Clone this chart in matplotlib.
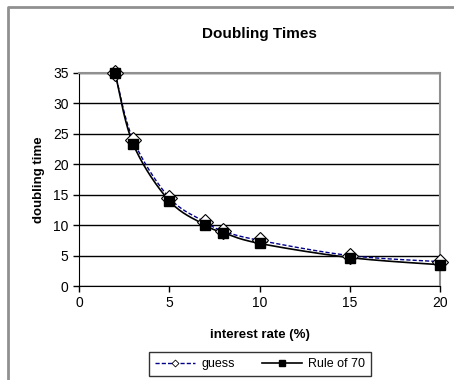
import numpy as np
import matplotlib.pyplot as plt
from matplotlib.lines import Line2D

plt.rcParams['font.family'] = ['Liberation Sans', 'DejaVu Sans']

rates = [2, 3, 5, 7, 8, 10, 15, 20]
guess = [35, 24, 14.5, 10.5, 9, 7.5, 5, 4]
rule70 = [35, 23.33, 14, 10, 8.75, 7, 4.67, 3.5]


def smooth(xs, ys, n=20):
    # Catmull-Rom curve through the points, like Excel's smoothed line
    xs = np.asarray(xs, float)
    ys = np.asarray(ys, float)
    px = np.concatenate([[xs[0]], xs, [xs[-1]]])
    py = np.concatenate([[ys[0]], ys, [ys[-1]]])
    outx, outy = [], []
    t = np.linspace(0, 1, n)
    for i in range(1, len(px) - 2):
        for p, out in ((px, outx), (py, outy)):
            p0, p1, p2, p3 = p[i - 1], p[i], p[i + 1], p[i + 2]
            b1 = p1 + (p2 - p0) / 6
            b2 = p2 - (p3 - p1) / 6
            out.extend((1 - t) ** 3 * p1 + 3 * (1 - t) ** 2 * t * b1
                       + 3 * (1 - t) * t ** 2 * b2 + t ** 3 * p2)
    return outx, outy


fig = plt.figure(figsize=(4.54, 3.8), dpi=100)
ax = fig.add_axes([79 / 454, 1 - 286 / 380, (440 - 79) / 454, (286 - 73) / 380])

gx, gy = smooth(rates, guess)
rx, ry = smooth(rates, rule70)
ax.plot(gx, gy, color='#00008B', lw=1.0, ls=(0, (3, 1.5)), zorder=3,
        clip_on=False)
ax.plot(rx, ry, color='black', lw=1.2, zorder=3, clip_on=False)
ax.plot(rates, guess, ls='none', marker='D', ms=8, mfc='white', mec='black',
        mew=0.8, zorder=4, clip_on=False)
ax.plot(rates, rule70, ls='none', marker='s', ms=7, mfc='black', mec='black',
        zorder=5, clip_on=False)

ax.set_xlim(0, 20)
ax.set_ylim(0, 35)
ax.set_xticks([0, 5, 10, 15, 20])
ax.set_yticks(range(0, 36, 5))
ax.yaxis.grid(True, color='black', lw=1)
ax.set_axisbelow(True)
for s in ['top', 'right']:
    ax.spines[s].set_color('#909090')
    ax.spines[s].set_linewidth(1.5)
ax.tick_params(direction='out', length=4, labelsize=10, width=1)
ax.tick_params(axis='x', pad=3)

ax.set_title('Doubling Times', fontsize=11, fontweight='bold', pad=25)
ax.set_xlabel('interest rate (%)', fontsize=9.5, fontweight='bold', labelpad=14)
ax.set_ylabel('doubling time', fontsize=9.5, fontweight='bold', labelpad=6)

handles = [
    Line2D([], [], color='#00008B', lw=1.0, ls=(0, (3, 1.5)), marker='D', ms=3.5,
           mfc='white', mec='black', mew=0.6),
    Line2D([], [], color='black', lw=1.2, marker='s', ms=4.5, mfc='black'),
]
leg = fig.legend(handles, ['guess', 'Rule of 70'], loc='center',
                 bbox_to_anchor=(260 / 454, 1 - 364 / 380), ncol=2,
                 fontsize=9, frameon=True, fancybox=False, edgecolor='black',
                 handlelength=3.2, columnspacing=2.2, borderpad=0.45,
                 handletextpad=0.5)
leg.get_frame().set_linewidth(1.0)

# outer chart border (top and left visible)
fig.add_artist(Line2D([8 / 454, 8 / 454, 1], [0, 1 - 7 / 380, 1 - 7 / 380],
                      transform=fig.transFigure, color='#909090', lw=2))

fig.savefig('out.png', dpi=100)
